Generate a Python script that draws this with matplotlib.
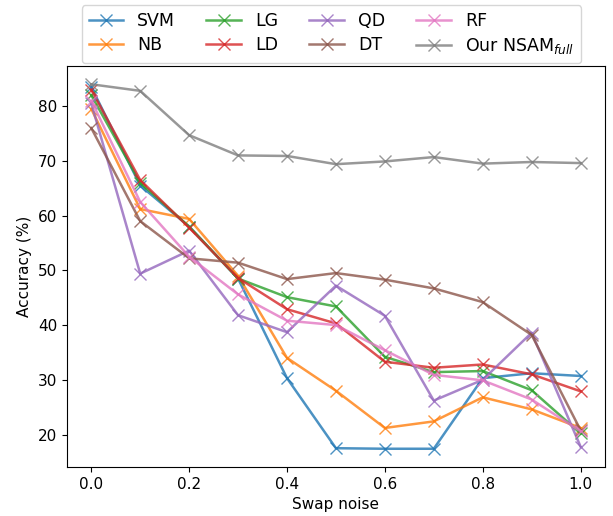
import matplotlib
matplotlib.use('Agg')
import matplotlib.pyplot as plt
import numpy as np

noise = [0.0, 0.1, 0.2, 0.3, 0.4, 0.5, 0.6, 0.7, 0.8, 0.9, 1.0]

svm = [83.5, 65.5, 58.0, 48.5, 30.3, 17.5, 17.4, 17.4, 30.3, 31.2, 30.7]
nb = [79.5, 61.2, 59.4, 49.0, 34.0, 28.0, 21.2, 22.4, 26.8, 24.6, 21.2]
lg = [82.0, 66.0, 58.0, 48.5, 45.1, 43.4, 34.2, 31.4, 31.6, 28.1, 20.2]
ld = [83.0, 66.5, 57.8, 48.6, 42.9, 40.3, 33.3, 32.2, 32.8, 31.0, 27.9]
qd = [80.5, 49.4, 53.6, 41.8, 38.7, 47.2, 41.7, 26.2, 30.0, 38.6, 17.8]
dt = [76.0, 59.0, 52.2, 51.4, 48.4, 49.5, 48.3, 46.7, 44.2, 38.2, 20.8]
rf = [81.0, 62.5, 52.5, 45.6, 40.8, 40.0, 35.4, 30.9, 29.9, 26.4, 20.6]
nsam = [84.0, 82.8, 74.7, 71.0, 70.9, 69.4, 69.9, 70.7, 69.5, 69.8, 69.6]

series = [('SVM', svm), ('NB', nb), ('LG', lg), ('LD', ld),
          ('QD', qd), ('DT', dt), ('RF', rf), ('Our NSAM$_{full}$', nsam)]
colors = ['tab:blue', 'tab:orange', 'tab:green', 'tab:red',
          'tab:purple', 'tab:brown', 'tab:pink', 'tab:gray']

fig = plt.figure(figsize=(6.13, 5.16), dpi=100)
ax = fig.add_axes([0.109, 0.095, 0.878, 0.777])

for (name, vals), c in zip(series, colors):
    ax.plot(noise, vals, marker='x', markersize=8, linewidth=1.8,
            color=c, alpha=0.8, label=name)

ax.set_xlabel('Swap noise', fontsize=11)
ax.set_ylabel('Accuracy (%)', fontsize=11)
ax.tick_params(labelsize=11)
ax.legend(ncol=4, fontsize=12.5, loc='lower center', borderaxespad=0,
          bbox_to_anchor=(0.4916, 1.0075), labelspacing=0.35,
          columnspacing=1.8)

fig.savefig('out.png', dpi=100)
